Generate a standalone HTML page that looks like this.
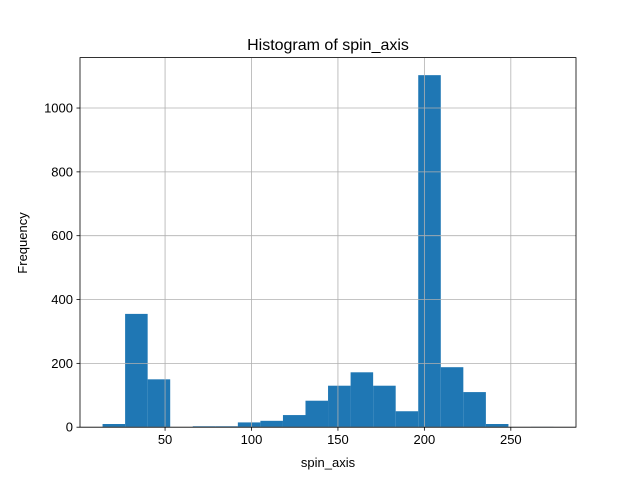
<!DOCTYPE html>
<html><head><meta charset="utf-8"><style>
body{margin:0;background:#fff}
svg{display:block;font-family:"Liberation Sans","DejaVu Sans",sans-serif}
</style></head><body>
<svg id="chart" width="640" height="480">
<rect width="640" height="480" fill="#fff"/>
<text x="328" y="50" text-anchor="middle" font-size="16">Histogram of spin_axis</text>
<text x="328" y="467" text-anchor="middle" font-size="13">spin_axis</text>
<text x="27" y="243" text-anchor="middle" font-size="13" transform="rotate(-90 27 243)">Frequency</text>
<g id="bars"></g><g id="grid"></g><g id="axes"></g>
</svg>
<script>
const binStart = 13.85;
const binEnd = 274.7;
const counts = [10, 355, 150, 0, 3, 3, 15, 20, 38, 83, 130, 172, 130, 50, 1103, 188, 110, 10, 0, 1];
const xTicks = [50, 100, 150, 200, 250];
const yTicks = [0, 200, 400, 600, 800, 1000];
const L=80,R=576,T=57.6,B=427.2;
const xmin=0.8,xmax=287.7,ymax=1158;
const xs=v=>L+(v-xmin)/(xmax-xmin)*(R-L);
const ys=v=>B-v/ymax*(B-T);
const NS="http://www.w3.org/2000/svg";
function mk(tag,attrs,parent){const e=document.createElementNS(NS,tag);for(const k in attrs)e.setAttribute(k,attrs[k]);document.getElementById(parent).appendChild(e);return e;}
const bw=(binEnd-binStart)/counts.length;
counts.forEach((c,i)=>{
  const x0=xs(binStart+i*bw),x1=xs(binStart+(i+1)*bw);
  const r=mk('rect',{x:x0,y:ys(c),width:x1-x0,height:B-ys(c),fill:'#1f77b4'},'bars');
  
  
});
xTicks.forEach(t=>{
  const x=xs(t);
  const g=mk('line',{x1:x,x2:x,y1:T,y2:B,stroke:'#b0b0b0','stroke-width':0.8},'grid');
  
  
  mk('line',{x1:x,x2:x,y1:B,y2:B+3.5,stroke:'#000','stroke-width':0.8},'axes');
  const tx=mk('text',{x:x,y:B+17,'text-anchor':'middle','font-size':13},'axes');
  tx.textContent=t;
  
  
});
yTicks.forEach(t=>{
  const y=ys(t);
  const g=mk('line',{x1:L,x2:R,y1:y,y2:y,stroke:'#b0b0b0','stroke-width':0.8},'grid');
  
  
  mk('line',{x1:L-3.5,x2:L,y1:y,y2:y,stroke:'#000','stroke-width':0.8},'axes');
  const tx=mk('text',{x:L-7,y:y+4.5,'text-anchor':'end','font-size':13},'axes');
  tx.textContent=t;
  
  
});
const fr=mk('rect',{x:L,y:T,width:R-L,height:B-T,fill:'none',stroke:'#000','stroke-width':0.8},'axes');


</script>
</body></html>
